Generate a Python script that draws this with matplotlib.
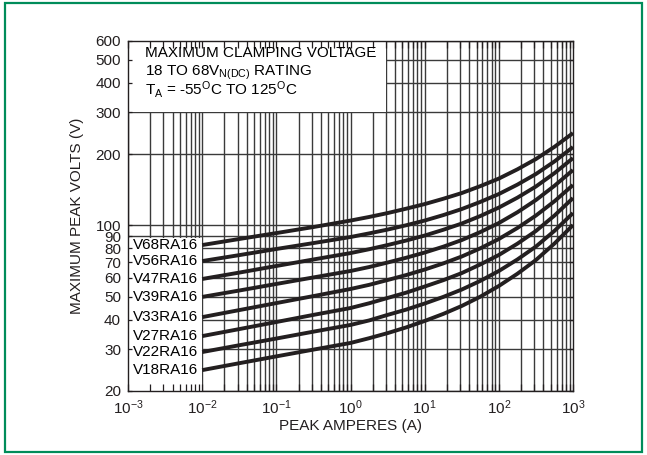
import numpy as np
import matplotlib.pyplot as plt
from matplotlib.patches import Rectangle
from matplotlib.ticker import LogLocator, NullFormatter, NullLocator

plt.rcParams['font.family'] = ['Liberation Sans', 'DejaVu Sans']
plt.rcParams['mathtext.fontset'] = 'custom'
plt.rcParams['mathtext.rm'] = 'Liberation Sans'
plt.rcParams['mathtext.it'] = 'Liberation Sans:italic'
plt.rcParams['mathtext.default'] = 'regular'

current = [0.01, 0.0316, 0.1, 0.316, 1, 1.78, 3.16, 5.62, 10, 17.8, 31.6,
           56.2, 100, 178, 316, 562, 1000]

# maximum peak volts for each part
v68 = [82.6, 87.6, 92.8, 98.4, 104.8, 108.5, 112.7, 117.6, 123.0, 129.5, 136.9,
       146.4, 157.6, 172.4, 190.5, 214.5, 245.2]
v56 = [70.7, 74.9, 79.5, 84.2, 89.3, 92.5, 96.0, 100.1, 104.8, 110.5, 117.2,
       125.6, 135.6, 148.6, 164.7, 186.1, 214.1]
v47 = [59.4, 63.2, 67.4, 71.8, 76.4, 79.3, 82.6, 86.3, 90.6, 95.8, 101.8,
       109.5, 118.9, 130.9, 145.9, 166.1, 192.3]
v39 = [49.9, 53.1, 56.6, 60.3, 64.2, 66.7, 69.7, 73.0, 76.8, 81.3, 86.7,
       93.7, 102.3, 113.6, 127.9, 146.9, 171.2]
v33 = [41.0, 43.9, 47.0, 50.3, 53.9, 56.1, 58.8, 61.7, 65.1, 69.1, 73.9,
       80.0, 87.6, 97.5, 110.0, 126.4, 148.0]
v27 = [34.1, 36.5, 39.1, 41.9, 44.8, 46.9, 49.4, 52.0, 55.2, 58.7, 62.9,
       68.4, 75.0, 83.7, 94.7, 110.0, 130.4]
v22 = [29.2, 31.2, 33.3, 35.6, 38.0, 39.7, 41.9, 44.1, 46.8, 49.9, 53.6,
       58.3, 64.2, 71.8, 81.4, 94.8, 112.7]
v18 = [24.5, 26.2, 28.0, 29.9, 31.9, 33.4, 35.1, 37.1, 39.5, 42.3, 45.7,
       50.0, 55.5, 62.5, 71.4, 83.8, 100.3]

part_names = ['V68RA16', 'V56RA16', 'V47RA16', 'V39RA16',
              'V33RA16', 'V27RA16', 'V22RA16', 'V18RA16']
part_volts = [v68, v56, v47, v39, v33, v27, v22, v18]

volt_ticks = [20, 30, 40, 50, 60, 70, 80, 90, 100, 200, 300, 400, 500, 600]
amp_exponents = [-3, -2, -1, 0, 1, 2, 3]

fig = plt.figure(figsize=(6.47, 4.55), dpi=100)
ax = fig.add_axes([128/647, 1 - 391/455, 445/647, 350/455])
ax.set_xscale('log')
ax.set_yscale('log')
ax.set_xlim(1e-3, 1e3)
ax.set_ylim(20, 600)

# log grid drawn by hand so the white boxes can sit on top of it
gridcol = '#3a3a3a'
for e in amp_exponents[:-1]:
    for m in range(1, 10):
        ax.axvline(m * 10.0**e, color=gridcol, lw=1.0, zorder=1)
for v in volt_ticks:
    ax.axhline(v, color=gridcol, lw=1.0, zorder=1)

# white boxes behind the title text and the part labels
ax.add_patch(Rectangle((1e-3, 302), 2.97 - 1e-3, 298, facecolor='white',
                       edgecolor='none', zorder=1.5))
ax.add_patch(Rectangle((1e-3, 20), 0.0098 - 1e-3, 88.5 - 20, facecolor='white',
                       edgecolor='none', zorder=1.5))

fs = 11
for name, volts in zip(part_names, part_volts):
    ax.plot(current, volts, color='#231f20', lw=2.8, zorder=3,
            solid_capstyle='butt', solid_joinstyle='round')
    ax.text(0.0088, volts[0], name, ha='right', va='center',
            fontsize=fs, zorder=4)

ax.text(0.038, 0.954, 'MAXIMUM CLAMPING VOLTAGE', transform=ax.transAxes,
        fontsize=fs, va='baseline', zorder=4)
ax.text(0.038, 0.900, r'18 TO 68V$_{\mathrm{N(DC)}}$ RATING',
        transform=ax.transAxes, fontsize=fs, va='baseline', zorder=4)
ax.text(0.038, 0.846, r'T$_{\mathrm{A}}$ = -55$^{\mathrm{O}}$C TO 125$^{\mathrm{O}}$C',
        transform=ax.transAxes, fontsize=fs, va='baseline', zorder=4)

ax.set_xticks([10.0**e for e in amp_exponents])
ax.set_xticklabels([r'$10^{%d}$' % e for e in amp_exponents])
ax.xaxis.set_minor_locator(LogLocator(base=10, subs=np.arange(2, 10), numticks=20))
ax.xaxis.set_minor_formatter(NullFormatter())
ax.set_yticks(volt_ticks)
ax.set_yticklabels([str(v) for v in volt_ticks])
ax.yaxis.set_minor_locator(NullLocator())

ax.tick_params(which='both', direction='in', top=True, right=True,
               labelsize=fs, colors='#231f20', pad=5)
ax.tick_params(axis='x', which='both', length=5, width=0.9)
ax.tick_params(axis='y', which='major', length=3, width=0.9)

for s in ax.spines.values():
    s.set_linewidth(1.0)
    s.set_color('#231f20')

ax.set_xlabel('PEAK AMPERES (A)', fontsize=fs, labelpad=1.5, color='#231f20')
ax.set_ylabel('MAXIMUM PEAK VOLTS (V)', fontsize=fs, labelpad=8, color='#231f20')

fig.add_artist(Rectangle((5/647, 3/455), 637/647, 449/455, transform=fig.transFigure,
                         fill=False, edgecolor='#008c5a', lw=1.6))

fig.savefig('out.png', dpi=100)
